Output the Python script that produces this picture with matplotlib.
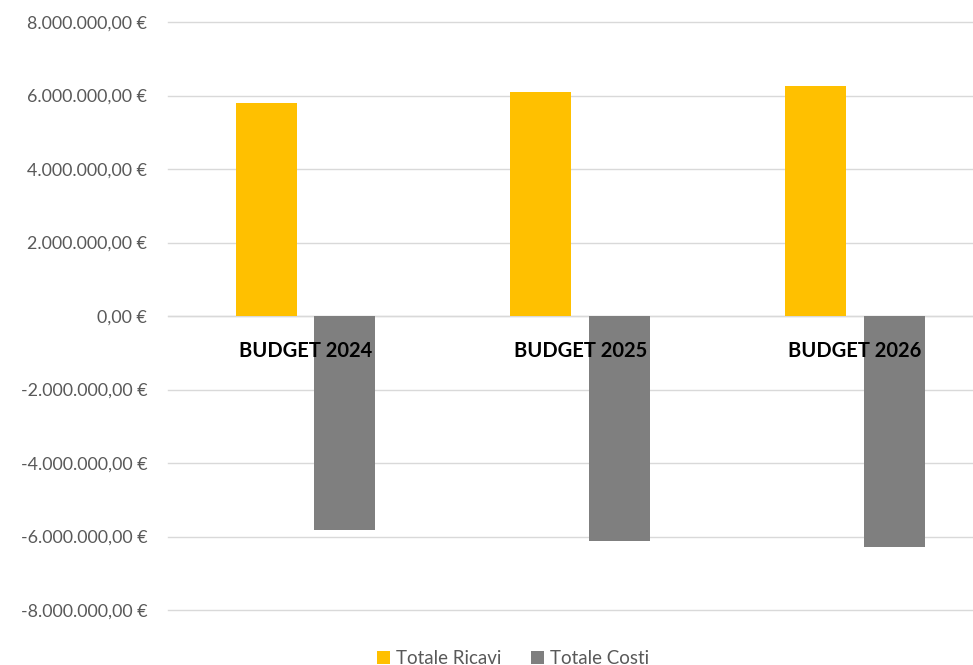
import matplotlib.pyplot as plt
from matplotlib.ticker import FuncFormatter, MultipleLocator

categories = ["BUDGET 2024", "BUDGET 2025", "BUDGET 2026"]
ricavi = [5790000, 6100000, 6270000]
costi = [-5810000, -6130000, -6290000]

plt.rcParams['font.family'] = ['Lato', 'DejaVu Sans']

def euro(v, pos):
    s = "{:,.2f}".format(v)
    s = s.replace(",", "X").replace(".", ",").replace("X", ".")
    return s + " €"

fig = plt.figure(figsize=(9.73, 6.65), dpi=100)
ax = fig.add_axes([0.1727, 0.0827, 0.8273, 0.8842])

x = list(range(len(categories)))
w = 0.222
off = 0.143
ax.bar([i - off for i in x], ricavi, width=w, color="#FFC000", label="Totale Ricavi", zorder=3)
ax.bar([i + off for i in x], costi, width=w, color="#7F7F7F", label="Totale Costi", zorder=3)

ax.set_ylim(-8000000, 8000000)
ax.set_xlim(-0.5, 2.43)
ax.yaxis.set_major_locator(MultipleLocator(2000000))
ax.yaxis.set_major_formatter(FuncFormatter(euro))
ax.grid(axis="y", color="#D9D9D9", linewidth=1, zorder=0)
for gl in ax.get_ygridlines():
    gl.set_clip_on(False)
ax.axhline(0, color="#D9D9D9", linewidth=1, zorder=1)
for s in ax.spines.values():
    s.set_visible(False)
ax.tick_params(axis="y", length=0, pad=15, labelsize=12.9, labelcolor="#595959")
ax.set_xticks([])

for i, c in enumerate(categories):
    ax.annotate(c, (i, 0), xytext=(0, -25), textcoords="offset points",
                ha="center", va="center", fontsize=14.5, fontweight="bold",
                color="#000000", zorder=4)

leg = fig.legend(loc="lower center", bbox_to_anchor=(0.527, -0.028), ncol=2,
                 frameon=False, fontsize=13.5, handlelength=0.7, handleheight=0.7,
                 handletextpad=0.3, columnspacing=1.6)
for t in leg.get_texts():
    t.set_color("#595959")

fig.savefig("out.png", dpi=100)
